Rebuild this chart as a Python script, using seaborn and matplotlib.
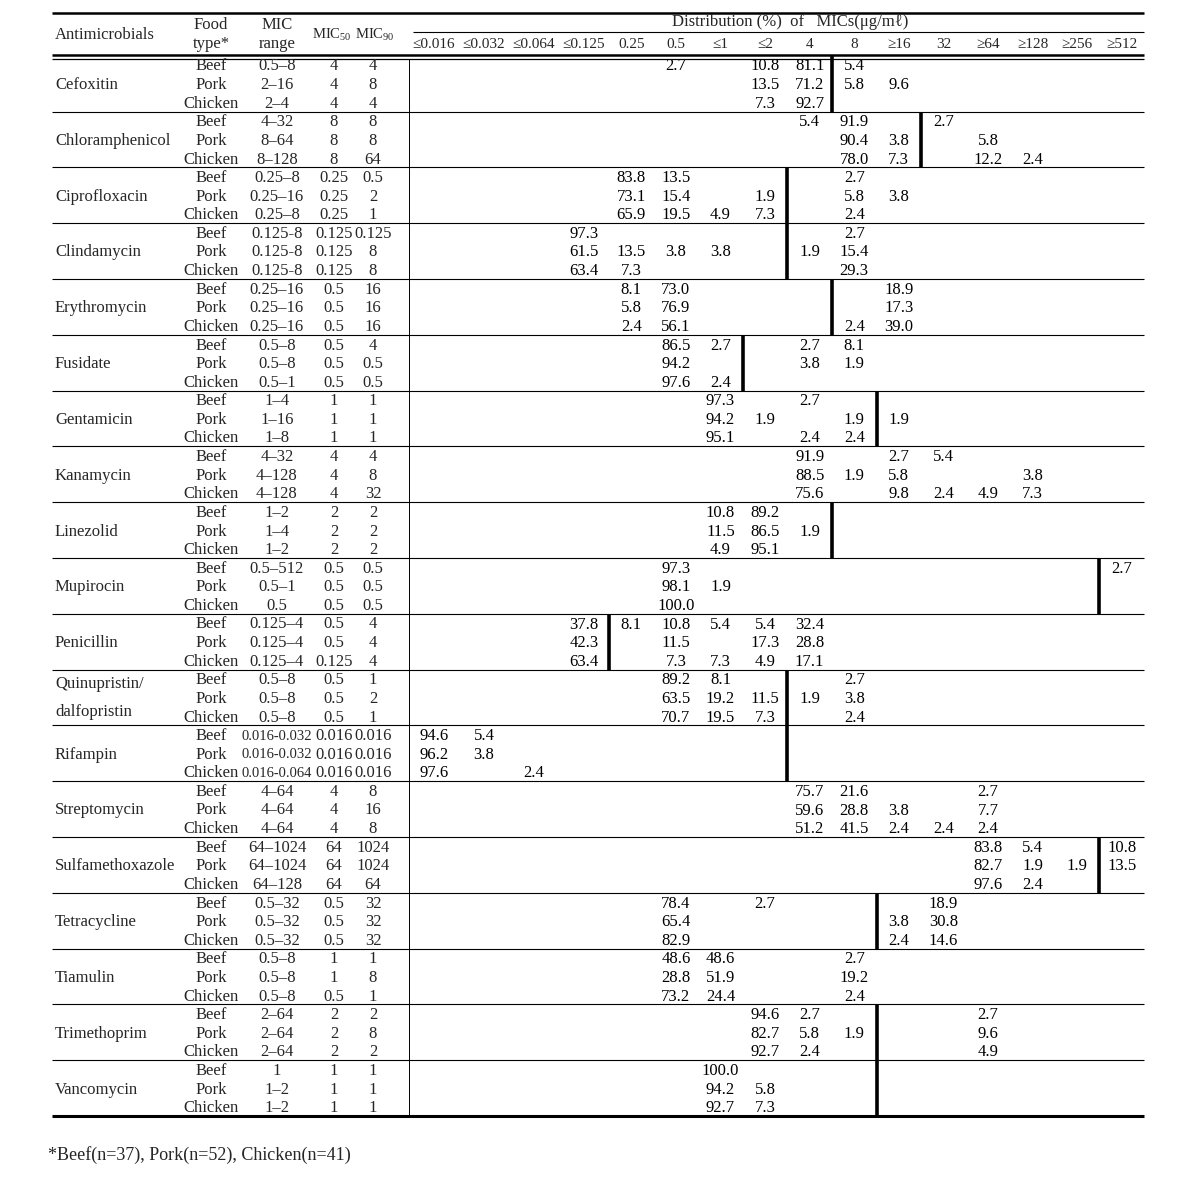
import numpy as np
import pandas as pd
import seaborn as sns
import matplotlib.pyplot as plt
from matplotlib.colors import ListedColormap

# table content
antimicrobials = ['Cefoxitin', 'Chloramphenicol', 'Ciprofloxacin', 'Clindamycin', 'Erythromycin',
                  'Fusidate', 'Gentamicin', 'Kanamycin', 'Linezolid', 'Mupirocin', 'Penicillin',
                  'Quinupristin/\ndalfopristin', 'Rifampin', 'Streptomycin', 'Sulfamethoxazole',
                  'Tetracycline', 'Tiamulin', 'Trimethoprim', 'Vancomycin']
food_types = ['Beef', 'Pork', 'Chicken']
mic_cols = ['≤0.016', '≤0.032', '≤0.064', '≤0.125', '0.25', '0.5', '≤1', '≤2',
            '4', '8', '≥16', '32', '≥64', '≥128', '≥256', '≥512']

mic_range = [['0.5–8', '2–16', '2–4'], ['4–32', '8–64', '8–128'], ['0.25–8', '0.25–16', '0.25–8'],
             ['0.125-8', '0.125-8', '0.125-8'], ['0.25–16', '0.25–16', '0.25–16'],
             ['0.5–8', '0.5–8', '0.5–1'], ['1–4', '1–16', '1–8'], ['4–32', '4–128', '4–128'],
             ['1–2', '1–4', '1–2'], ['0.5–512', '0.5–1', '0.5'], ['0.125–4', '0.125–4', '0.125–4'],
             ['0.5–8', '0.5–8', '0.5–8'], ['0.016-0.032', '0.016-0.032', '0.016-0.064'],
             ['4–64', '4–64', '4–64'], ['64–1024', '64–1024', '64–128'], ['0.5–32', '0.5–32', '0.5–32'],
             ['0.5–8', '0.5–8', '0.5–8'], ['2–64', '2–64', '2–64'], ['1', '1–2', '1–2']]
mic50 = [['4', '4', '4'], ['8', '8', '8'], ['0.25', '0.25', '0.25'], ['0.125', '0.125', '0.125'],
         ['0.5', '0.5', '0.5'], ['0.5', '0.5', '0.5'], ['1', '1', '1'], ['4', '4', '4'],
         ['2', '2', '2'], ['0.5', '0.5', '0.5'], ['0.5', '0.5', '0.125'], ['0.5', '0.5', '0.5'],
         ['0.016', '0.016', '0.016'], ['4', '4', '4'], ['64', '64', '64'], ['0.5', '0.5', '0.5'],
         ['1', '1', '0.5'], ['2', '2', '2'], ['1', '1', '1']]
mic90 = [['4', '8', '4'], ['8', '8', '64'], ['0.5', '2', '1'], ['0.125', '8', '8'],
         ['16', '16', '16'], ['4', '0.5', '0.5'], ['1', '1', '1'], ['4', '8', '32'],
         ['2', '2', '2'], ['0.5', '0.5', '0.5'], ['4', '4', '4'], ['1', '2', '1'],
         ['0.016', '0.016', '0.016'], ['8', '16', '8'], ['1024', '1024', '64'], ['32', '32', '32'],
         ['1', '8', '1'], ['2', '8', '2'], ['1', '1', '1']]

# distribution (%) per food type: Beef, Pork, Chicken
dist_cefoxitin = [{'0.5': 2.7, '≤2': 10.8, '4': 81.1, '8': 5.4},
                  {'≤2': 13.5, '4': 71.2, '8': 5.8, '≥16': 9.6},
                  {'≤2': 7.3, '4': 92.7}]
dist_chloramphenicol = [{'4': 5.4, '8': 91.9, '32': 2.7},
                        {'8': 90.4, '≥16': 3.8, '≥64': 5.8},
                        {'8': 78.0, '≥16': 7.3, '≥64': 12.2, '≥128': 2.4}]
dist_ciprofloxacin = [{'0.25': 83.8, '0.5': 13.5, '8': 2.7},
                      {'0.25': 73.1, '0.5': 15.4, '≤2': 1.9, '8': 5.8, '≥16': 3.8},
                      {'0.25': 65.9, '0.5': 19.5, '≤1': 4.9, '≤2': 7.3, '8': 2.4}]
dist_clindamycin = [{'≤0.125': 97.3, '8': 2.7},
                    {'≤0.125': 61.5, '0.25': 13.5, '0.5': 3.8, '≤1': 3.8, '4': 1.9, '8': 15.4},
                    {'≤0.125': 63.4, '0.25': 7.3, '8': 29.3}]
dist_erythromycin = [{'0.25': 8.1, '0.5': 73.0, '≥16': 18.9},
                     {'0.25': 5.8, '0.5': 76.9, '≥16': 17.3},
                     {'0.25': 2.4, '0.5': 56.1, '8': 2.4, '≥16': 39.0}]
dist_fusidate = [{'0.5': 86.5, '≤1': 2.7, '4': 2.7, '8': 8.1},
                 {'0.5': 94.2, '4': 3.8, '8': 1.9},
                 {'0.5': 97.6, '≤1': 2.4}]
dist_gentamicin = [{'≤1': 97.3, '4': 2.7},
                   {'≤1': 94.2, '≤2': 1.9, '8': 1.9, '≥16': 1.9},
                   {'≤1': 95.1, '4': 2.4, '8': 2.4}]
dist_kanamycin = [{'4': 91.9, '≥16': 2.7, '32': 5.4},
                  {'4': 88.5, '8': 1.9, '≥16': 5.8, '≥128': 3.8},
                  {'4': 75.6, '≥16': 9.8, '32': 2.4, '≥64': 4.9, '≥128': 7.3}]
dist_linezolid = [{'≤1': 10.8, '≤2': 89.2},
                  {'≤1': 11.5, '≤2': 86.5, '4': 1.9},
                  {'≤1': 4.9, '≤2': 95.1}]
dist_mupirocin = [{'0.5': 97.3, '≥512': 2.7},
                  {'0.5': 98.1, '≤1': 1.9},
                  {'0.5': 100.0}]
dist_penicillin = [{'≤0.125': 37.8, '0.25': 8.1, '0.5': 10.8, '≤1': 5.4, '≤2': 5.4, '4': 32.4},
                   {'≤0.125': 42.3, '0.5': 11.5, '≤2': 17.3, '4': 28.8},
                   {'≤0.125': 63.4, '0.5': 7.3, '≤1': 7.3, '≤2': 4.9, '4': 17.1}]
dist_quinupristin = [{'0.5': 89.2, '≤1': 8.1, '8': 2.7},
                     {'0.5': 63.5, '≤1': 19.2, '≤2': 11.5, '4': 1.9, '8': 3.8},
                     {'0.5': 70.7, '≤1': 19.5, '≤2': 7.3, '8': 2.4}]
dist_rifampin = [{'≤0.016': 94.6, '≤0.032': 5.4},
                 {'≤0.016': 96.2, '≤0.032': 3.8},
                 {'≤0.016': 97.6, '≤0.064': 2.4}]
dist_streptomycin = [{'4': 75.7, '8': 21.6, '≥64': 2.7},
                     {'4': 59.6, '8': 28.8, '≥16': 3.8, '≥64': 7.7},
                     {'4': 51.2, '8': 41.5, '≥16': 2.4, '32': 2.4, '≥64': 2.4}]
dist_sulfamethoxazole = [{'≥64': 83.8, '≥128': 5.4, '≥512': 10.8},
                         {'≥64': 82.7, '≥128': 1.9, '≥256': 1.9, '≥512': 13.5},
                         {'≥64': 97.6, '≥128': 2.4}]
dist_tetracycline = [{'0.5': 78.4, '≤2': 2.7, '32': 18.9},
                     {'0.5': 65.4, '≥16': 3.8, '32': 30.8},
                     {'0.5': 82.9, '≥16': 2.4, '32': 14.6}]
dist_tiamulin = [{'0.5': 48.6, '≤1': 48.6, '8': 2.7},
                 {'0.5': 28.8, '≤1': 51.9, '8': 19.2},
                 {'0.5': 73.2, '≤1': 24.4, '8': 2.4}]
dist_trimethoprim = [{'≤2': 94.6, '4': 2.7, '≥64': 2.7},
                     {'≤2': 82.7, '4': 5.8, '8': 1.9, '≥64': 9.6},
                     {'≤2': 92.7, '4': 2.4, '≥64': 4.9}]
dist_vancomycin = [{'≤1': 100.0},
                   {'≤1': 94.2, '≤2': 5.8},
                   {'≤1': 92.7, '≤2': 7.3}]

# breakpoint: thick line drawn before this MIC column (None = no line)
resistant_from = ['8', '32', '4', '4', '8', '≤2', '≥16', None, '8', '≥512', '0.25',
                  '4', '4', None, '≥512', '≥16', None, '≥16', '≥16']

footnote = '*Beef(n=37), Pork(n=52), Chicken(n=41)'

dists = [dist_cefoxitin, dist_chloramphenicol, dist_ciprofloxacin, dist_clindamycin,
         dist_erythromycin, dist_fusidate, dist_gentamicin, dist_kanamycin, dist_linezolid,
         dist_mupirocin, dist_penicillin, dist_quinupristin, dist_rifampin, dist_streptomycin,
         dist_sulfamethoxazole, dist_tetracycline, dist_tiamulin, dist_trimethoprim, dist_vancomycin]

# long table -> grid of rows (drug x food) by MIC column
records = []
row_keys = []
for drug, rows in zip(antimicrobials, dists):
    for food, row in zip(food_types, rows):
        key = drug + '|' + food
        row_keys.append(key)
        for col, val in row.items():
            records.append({'row': key, 'mic': col, 'pct': val})
df = pd.DataFrame(records)
grid = df.pivot(index='row', columns='mic', values='pct').reindex(index=row_keys, columns=mic_cols)

# style
sns.set_theme(style='white')
serif = ['Liberation Serif', 'DejaVu Serif']
plt.rcParams['font.family'] = serif
plt.rcParams['mathtext.fontset'] = 'custom'
plt.rcParams['mathtext.rm'] = 'Liberation Serif'
fs = 12

W, H = 1184, 1189
fig = plt.figure(figsize=(W / 100, H / 100), dpi=100)


def fig_rect(x0, y0, x1, y1):
    return [x0 / W, 1 - y1 / H, (x1 - x0) / W, (y1 - y0) / H]


row_y0, row_h = 65, 18.6
dy = 1.5  # text sits a bit high with va='center'
n_rows = len(row_keys)
top = row_y0 - row_h / 2
bottom = top + n_rows * row_h
x_left, x_split, x_dist, x_right = 52, 409, 609, 1144

white = ListedColormap(['white'])
kws = dict(cmap=white, annot=True, fmt='.1f', cbar=False, xticklabels=False,
           yticklabels=False, annot_kws={'fontsize': fs, 'color': 'black', 'family': serif})

ax_lo = fig.add_axes(fig_rect(x_split, top + dy, x_dist, bottom + dy))
sns.heatmap(grid.iloc[:, :4], ax=ax_lo, **kws)
ax_hi = fig.add_axes(fig_rect(x_dist, top + dy, x_right, bottom + dy))
sns.heatmap(grid.iloc[:, 4:], ax=ax_hi, **kws)
for a in (ax_lo, ax_hi):
    a.set_xlabel('')
    a.set_ylabel('')

# overlay for text columns and rules
bg = fig.add_axes([0, 0, 1, 1])
bg.set_xlim(0, W)
bg.set_ylim(H, 0)
bg.axis('off')
bg.set_zorder(10)

col_w_lo = (x_dist - x_split) / 4
col_w_hi = (x_right - x_dist) / 12

# breakpoint lines
for g, col in enumerate(resistant_from):
    if col is None:
        continue
    k = mic_cols.index(col) - 4
    xb = x_dist + k * col_w_hi
    y0 = top + 3 * g * row_h
    bg.vlines(xb, y0, y0 + 3 * row_h, color='black', lw=2.6)

# header
bg.hlines(13, x_left, x_right, color='black', lw=1.8)
bg.text(790, 22, 'Distribution (%)  of   MICs(μg/mℓ)', ha='center', va='center', fontsize=fs)
bg.hlines(32, 413, x_right, color='black', lw=0.8)
bg.text(55, 35, 'Antimicrobials', ha='left', va='center', fontsize=fs)
bg.text(211, 25, 'Food', ha='center', va='center', fontsize=fs)
bg.text(211, 44, 'type*', ha='center', va='center', fontsize=fs)
bg.text(277, 25, 'MIC', ha='center', va='center', fontsize=fs)
bg.text(277, 44, 'range', ha='center', va='center', fontsize=fs)
bg.text(332, 35, r'MIC$_{\mathrm{50}}$', ha='center', va='center', fontsize=10.5)
bg.text(375, 35, r'MIC$_{\mathrm{90}}$', ha='center', va='center', fontsize=10.5)
for i, lab in enumerate(mic_cols):
    cx = x_split + (i + 0.5) * col_w_lo if i < 4 else x_dist + (i - 4 + 0.5) * col_w_hi
    bg.text(cx, 45, lab, ha='center', va='center', fontsize=11)
bg.hlines(54.5, x_left, x_right, color='black', lw=1.8)
bg.hlines(58.7, x_left, x_right, color='black', lw=0.9)

# left columns
for g, drug in enumerate(antimicrobials):
    mid = row_y0 + (3 * g + 1) * row_h + dy
    if '\n' in drug:
        a, b = drug.split('\n')
        bg.text(55, mid - 15, a, ha='left', va='center', fontsize=fs)
        bg.text(55, mid + 13, b, ha='left', va='center', fontsize=fs)
    else:
        bg.text(55, mid, drug, ha='left', va='center', fontsize=fs)
    for j, food in enumerate(food_types):
        y = row_y0 + (3 * g + j) * row_h + dy
        bg.text(211, y, food, ha='center', va='center', fontsize=fs)
        rng = mic_range[g][j]
        bg.text(277, y, rng, ha='center', va='center', fontsize=fs if len(rng) < 9 else 10.5)
        bg.text(334, y, mic50[g][j], ha='center', va='center', fontsize=fs)
        bg.text(373, y, mic90[g][j], ha='center', va='center', fontsize=fs)
    if g > 0:
        bg.hlines(row_y0 + (3 * g - 0.5) * row_h, x_left, x_right, color='black', lw=0.8)

bg.vlines(x_split, 58.7, bottom, color='black', lw=0.7)
bg.hlines(bottom, x_left, x_right, color='black', lw=2.2)

bg.text(48, 1155, footnote, ha='left', va='center', fontsize=fs + 1)

fig.savefig('out.png', dpi=100)
